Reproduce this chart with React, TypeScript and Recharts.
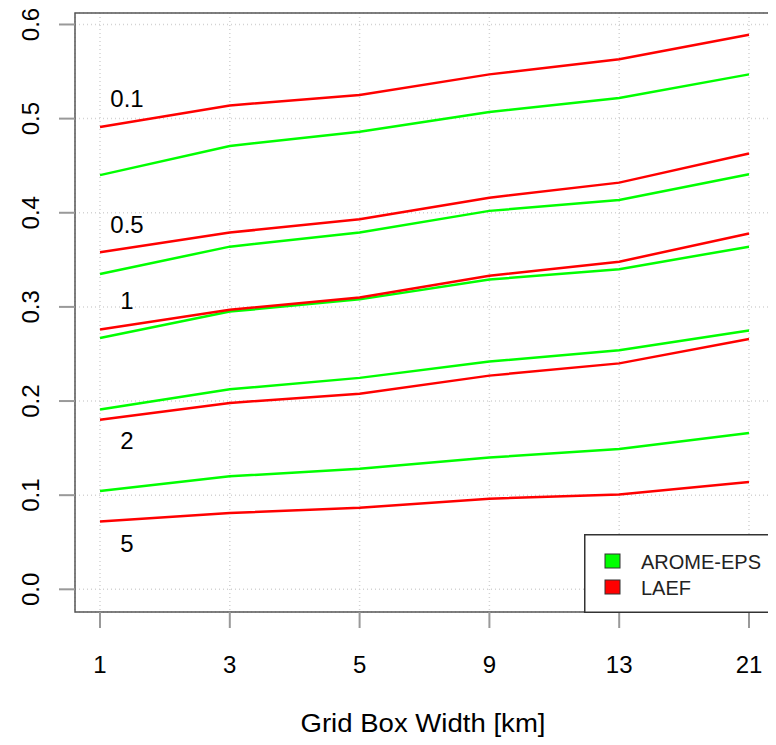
import React from 'react';
import {
  LineChart,
  Line,
  XAxis,
  YAxis,
  CartesianGrid,
  ReferenceArea,
  ReferenceDot,
  Label,
} from 'recharts';

// Grid box widths (km) shown as equally spaced categories
const gridBoxWidths = ['1', '3', '5', '9', '13', '21'];

// Thresholds drawn for each model
const thresholds = ['0.1', '0.5', '1', '2', '5'];

// AROME-EPS scores per threshold, one value per grid box width
const aromeT01 = [0.44, 0.471, 0.486, 0.507, 0.522, 0.547];
const aromeT05 = [0.335, 0.364, 0.379, 0.402, 0.4135, 0.441];
const aromeT1 = [0.267, 0.295, 0.308, 0.329, 0.34, 0.364];
const aromeT2 = [0.191, 0.2125, 0.2246, 0.242, 0.254, 0.275];
const aromeT5 = [0.1045, 0.12, 0.128, 0.14, 0.149, 0.166];

// LAEF scores per threshold
const laefT01 = [0.491, 0.514, 0.525, 0.547, 0.563, 0.589];
const laefT05 = [0.358, 0.379, 0.393, 0.416, 0.432, 0.463];
const laefT1 = [0.276, 0.297, 0.31, 0.333, 0.348, 0.378];
const laefT2 = [0.18, 0.198, 0.2078, 0.227, 0.24, 0.266];
const laefT5 = [0.072, 0.081, 0.0867, 0.0963, 0.1007, 0.114];

// Threshold annotation anchors (category index, value)
const labelX = [0.208, 0.208, 0.208, 0.208, 0.208];
const labelY = [0.5211, 0.3872, 0.3064, 0.1576, 0.0482];

const yTicks = [0, 0.1, 0.2, 0.3, 0.4, 0.5, 0.6];

const models = [
  { name: 'AROME-EPS', color: '#00ff00', series: [aromeT01, aromeT05, aromeT1, aromeT2, aromeT5] },
  { name: 'LAEF', color: '#ff0000', series: [laefT01, laefT05, laefT1, laefT2, laefT5] },
];

const data = gridBoxWidths.map((w, i) => {
  const row: Record<string, number | string> = { idx: i, width: w };
  models.forEach((m) => {
    m.series.forEach((s, k) => {
      row[`${m.name}_${thresholds[k]}`] = s[i];
    });
  });
  return row;
});

const FONT = '"Liberation Sans", Arial, Helvetica, sans-serif';
const X_DOMAIN: [number, number] = [-0.1926, 5.1695];
const Y_DOMAIN: [number, number] = [-0.0241, 0.6122];

const XTick = (props: any) => {
  const { x, y, payload } = props;
  return (
    <text x={x} y={y + 45} textAnchor="middle" fontSize={24} fontFamily={FONT} fill="#000">
      {gridBoxWidths[payload.value]}
    </text>
  );
};

const YTick = (props: any) => {
  const { y, payload } = props;
  return (
    <text
      transform={`translate(39, ${y}) rotate(-90)`}
      textAnchor="middle"
      fontSize={24}
      fontFamily={FONT}
      fill="#000"
    >
      {Number(payload.value).toFixed(1)}
    </text>
  );
};

const AxisTitle = () => (
  <text
    x={423}
    y={732}
    textAnchor="middle"
    fontSize={26}
    fontFamily={FONT}
    fill="#000"
    textLength={245}
    lengthAdjust="spacingAndGlyphs"
  >
    Grid Box Width [km]
  </text>
);

const LegendBox = () => (
  <svg
    width={188}
    height={79}
    style={{ position: 'absolute', left: 583.5, top: 533.5 }}
  >
    <rect x={0.75} y={0.75} width={186.5} height={77.5} fill="#fff" stroke="#333" strokeWidth={1.5} />
    {models.map((m, i) => (
      <g key={m.name}>
        <rect
          x={21}
          y={20 + i * 26}
          width={15}
          height={14}
          fill={m.color}
          stroke="#333"
          strokeWidth={1}
        />
        <text x={57} y={35 + i * 26} fontSize={20} fontFamily={FONT} fill="#222">
          {m.name}
        </text>
      </g>
    ))}
  </svg>
);

export default function App() {
  return (
    <div style={{ margin: -8, width: 776, height: 745, position: 'relative', overflow: 'hidden', background: '#fff' }}>
      <LineChart
        width={776}
        height={745}
        data={data}
        margin={{ top: 13, right: 5, bottom: 73, left: 0 }}
      >
        <CartesianGrid stroke="#d3d3d3" strokeDasharray="1 3" strokeWidth={1.5} />
        <XAxis
          dataKey="idx"
          type="number"
          domain={X_DOMAIN}
          ticks={[0, 1, 2, 3, 4, 5]}
          allowDataOverflow
          axisLine={false}
          tickSize={16}
          tickMargin={0}
          tickLine={{ stroke: '#999', strokeWidth: 2 }}
          tick={<XTick />}
          height={60}
        >
          <Label content={<AxisTitle />} />
        </XAxis>
        <YAxis
          type="number"
          domain={Y_DOMAIN}
          ticks={yTicks}
          allowDataOverflow
          axisLine={false}
          width={75}
          tickSize={16}
          tickMargin={0}
          tickLine={{ stroke: '#999', strokeWidth: 2 }}
          tick={<YTick />}
        />
        {models.map((m) =>
          thresholds.map((t) => (
            <Line
              key={`${m.name}_${t}`}
              type="linear"
              dataKey={`${m.name}_${t}`}
              stroke={m.color}
              strokeWidth={2.5}
              dot={false}
              activeDot={false}
              isAnimationActive={false}
            />
          ))
        )}
        {thresholds.map((t, k) => (
          <ReferenceDot
            key={`lbl_${t}`}
            x={labelX[k]}
            y={labelY[k]}
            r={0}
            fill="none"
            stroke="none"
            label={{ value: t, position: 'center', fontSize: 24, fontFamily: FONT, fill: '#000' }}
          />
        ))}
        <ReferenceArea
          x1={X_DOMAIN[0]}
          x2={X_DOMAIN[1]}
          y1={Y_DOMAIN[0]}
          y2={Y_DOMAIN[1]}
          fill="none"
          stroke="#555"
          strokeWidth={1.5}
          ifOverflow="visible"
        />
      </LineChart>
      <LegendBox />
    </div>
  );
}
